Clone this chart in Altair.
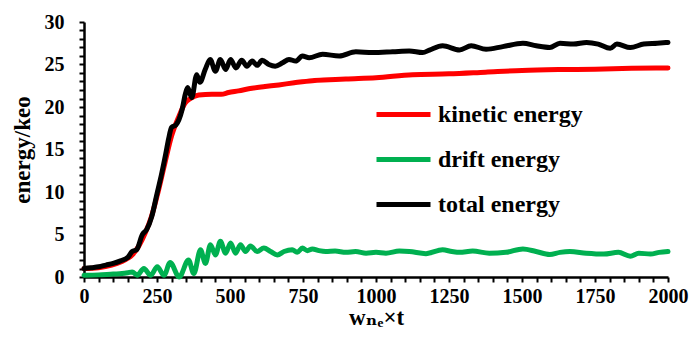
import altair as alt
import pandas as pd

# kinetic energy (red)
kin_t = [0, 50, 95, 128, 150, 165, 187, 210, 230, 250, 277, 300, 325, 347, 365, 393, 438, 470, 495,
         529, 575, 620, 667, 720, 782, 840, 897, 1000, 1125, 1250, 1375, 1500, 1625, 1750, 1875, 2000]
kin_e = [1.0, 1.1, 1.4, 1.8, 2.2, 2.6, 3.6, 5.2, 7.0, 9.5, 13.4, 16.6, 18.9, 20.5, 21.0, 21.4, 21.5, 21.5, 21.7,
         21.9, 22.2, 22.4, 22.6, 22.85, 23.1, 23.2, 23.3, 23.45, 23.8, 23.9, 24.1, 24.3, 24.4, 24.45, 24.55, 24.6]

# drift energy (green)
drift_t = [0, 50, 100, 130, 150, 165, 182, 205, 228, 251, 274, 295, 326, 358, 376, 399, 416, 433, 450, 467,
           485, 502, 519, 536, 553, 570, 593, 616, 639, 662, 685, 713, 730, 748, 765, 782, 805, 828, 860, 897,
           930, 966, 1000, 1034, 1080, 1114, 1171, 1228, 1260, 1286, 1331, 1388, 1445, 1503, 1548, 1595, 1630,
           1664, 1720, 1780, 1830, 1871, 1900, 1940, 1970, 2000]
drift_e = [0.2, 0.25, 0.35, 0.4, 0.5, 0.6, 0.2, 1.0, 0.2, 1.2, 0.2, 1.7, 0.0, 2.0, 0.4, 3.2, 1.6, 3.8, 2.6, 4.2,
           2.8, 4.0, 2.8, 3.8, 3.0, 3.65, 3.0, 3.4, 3.0, 2.6, 3.0, 3.2, 2.9, 3.4, 3.1, 3.3, 3.1, 3.0, 3.05, 2.9,
           3.0, 2.8, 2.9, 2.8, 3.05, 3.0, 2.75, 3.2, 3.0, 2.9, 3.05, 2.8, 2.9, 3.3, 3.0, 2.65, 2.9,
           3.0, 2.8, 2.7, 2.9, 2.45, 2.8, 2.7, 2.9, 3.0]

# total energy (black)
total_t = [0, 25, 50, 75, 100, 125, 150, 165, 180, 200, 215, 232, 250, 265, 280, 290, 300, 315, 325, 336,
           347, 355, 369, 386, 397, 415, 432, 450, 467, 485, 502, 520, 540, 558, 576, 593, 610, 633, 655, 680,
           702, 725, 748, 771, 817, 874, 931, 988, 1057, 1114, 1160, 1183, 1228, 1286, 1326, 1377, 1434, 1503,
           1549, 1595, 1630, 1676, 1721, 1761, 1802, 1825, 1871, 1917, 1963, 2000]
total_e = [1.0, 1.1, 1.2, 1.4, 1.6, 1.9, 2.3, 3.0, 3.2, 5.0, 5.6, 7.1, 9.8, 12.0, 14.5, 16.3, 17.6, 17.9, 18.5, 19.7,
           21.5, 22.3, 21.1, 23.8, 22.9, 24.4, 25.6, 24.2, 25.6, 24.4, 25.6, 24.6, 25.5, 24.8, 25.4, 24.9, 25.5, 25.0, 24.8, 25.2,
           25.6, 25.4, 26.0, 25.8, 26.2, 26.0, 26.5, 26.4, 26.5, 26.6, 26.4, 26.7, 27.2, 26.7, 27.2, 26.8, 27.1, 27.5,
           27.2, 27.0, 27.5, 27.4, 27.6, 27.4, 26.9, 27.4, 27.0, 27.4, 27.5, 27.6]

series_names = ["kinetic energy", "drift energy", "total energy"]
series_colors = ["#FF0000", "#00B050", "#000000"]

rows = []
for name, ts, es in [(series_names[0], kin_t, kin_e), (series_names[1], drift_t, drift_e),
                     (series_names[2], total_t, total_e)]:
    for i, (t, e) in enumerate(zip(ts, es)):
        rows.append({"t": t, "e": e, "series": name, "order": i})
df = pd.DataFrame(rows)

FONT = "'Liberation Serif', 'DejaVu Serif', serif"

chart = alt.Chart(df).mark_line(strokeWidth=5, interpolate="monotone", strokeCap="round", strokeJoin="round").encode(
    x=alt.X("t:Q", scale=alt.Scale(domain=[0, 2000], nice=False),
            axis=alt.Axis(title="wₙₑ×t", values=list(range(0, 2001, 50)),
                          labelExpr="datum.value % 250 == 0 ? datum.label : ''",
                          labelOverlap=False, labelFlush=False, format="d", labelPadding=4, titlePadding=0)),
    y=alt.Y("e:Q", scale=alt.Scale(domain=[0, 30], nice=False),
            axis=alt.Axis(title="energy/keo", values=list(range(0, 31, 1)),
                          labelExpr="datum.value % 5 == 0 ? datum.label : ''",
                          labelOverlap=False, labelFlush=False, labelPadding=15, titlePadding=10)),
    color=alt.Color("series:N", scale=alt.Scale(domain=series_names, range=series_colors),
                    sort=series_names,
                    legend=alt.Legend(title=None, orient="none", legendX=290, legendY=63,
                                      symbolType="stroke", symbolSize=2916, symbolStrokeWidth=5,
                                      labelFont=FONT, labelFontSize=24, labelFontWeight="bold",
                                      labelColor="black", labelOffset=5, rowPadding=3)),
    detail="series:N",
    order="order:Q",
).properties(
    width=584, height=255,
    padding={"left": 84, "top": 22, "right": 22, "bottom": 61},
    autosize=alt.AutoSizeParams(type="none"),
).configure(font=FONT).configure_view(stroke=None).configure_axis(
    grid=False, domainColor="black", domainWidth=2.5, tickColor="black", tickWidth=2, tickSize=5,
    labelFont=FONT, labelFontSize=20, labelFontWeight="bold", labelColor="black",
    titleFont=FONT, titleFontSize=23, titleFontWeight="bold", titleColor="black",
)

chart.save("out.html", embed_options={"renderer": "svg", "actions": False})
